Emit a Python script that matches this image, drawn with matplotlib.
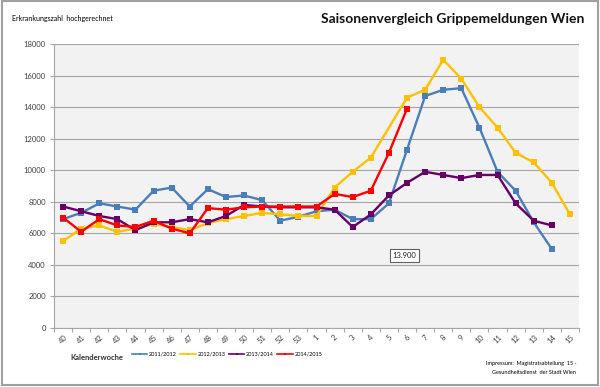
import matplotlib
matplotlib.use("Agg")
import matplotlib.pyplot as plt
import numpy as np
from matplotlib.patches import Rectangle
from matplotlib.lines import Line2D

plt.rcParams['font.family'] = ['Lato', 'DejaVu Sans']

weeks = ['40', '41', '42', '43', '44', '45', '46', '47', '48', '49', '50', '51', '52', '53',
         '1', '2', '3', '4', '5', '6', '7', '8', '9', '10', '11', '12', '13', '14', '15']

s2011 = [6900, 7300, 7900, 7700, 7500, 8700, 8900, 7700, 8800, 8300, 8400, 8100, 6800, 7050,
         7400, 7500, 6900, 6900, 7900, 11300, 14700, 15100, 15200, 12700, 9900, 8700, 6700, 5000, None]
s2012 = [5500, 6300, 6500, 6100, 6300, 6600, 6400, 6200, 6650, 6900, 7100, 7300, 7200, 7100,
         7100, 8900, 9900, 10800, None, 14600, 15100, 17000, 15800, 14000, 12700, 11100, 10500, 9200, 7200]
s2013 = [7700, 7400, 7100, 6900, 6200, 6700, 6700, 6900, 6700, 7100, 7800, 7700, 7650, 7650,
         7650, 7500, 6400, 7200, 8400, 9200, 9900, 9700, 9500, 9700, 9700, 7900, 6800, 6500, None]
s2014 = [7000, 6100, 6900, 6500, 6400, 6800, 6300, 6000, 7600, 7500, 7650, 7700, 7700, 7700,
         7700, 8500, 8300, 8700, 11100, 13900, None, None, None, None, None, None, None, None, None]

series_names = ['2011/2012', '2012/2013', '2013/2014', '2014/2015']
series_colors = ['#4A7EBB', '#FFC000', '#660066', '#FF0000']
series_data = [s2011, s2012, s2013, s2014]

annot_text = '13.900'
annot_pos = (18.85, 4600)

fig = plt.figure(figsize=(6.0, 3.87), dpi=100)
ax = fig.add_axes([54/600, 1-328/387, (579-54)/600, (328-44)/387])
ax.set_facecolor('#F2F2F2')

x = np.arange(len(weeks))
for data, col, name in zip(series_data, series_colors, series_names):
    xs = [xi for xi, v in zip(x, data) if v is not None]
    ys = [v for v in data if v is not None]
    ax.plot(xs, ys, color=col, lw=1.7, marker='s', markersize=5, markeredgewidth=0, zorder=3)

ax.set_xlim(-0.5, len(weeks) - 0.5)
ax.set_ylim(0, 18000)
ax.set_yticks(np.arange(0, 18001, 2000))
ax.yaxis.grid(True, color='#A6A6A6', lw=0.8)
ax.set_axisbelow(True)
ax.set_xticks(x)
ax.set_xticklabels(weeks, rotation=45, ha='center', va='top', fontsize=5.5, color='#404040')
ax.set_xticks(np.arange(-0.5, len(weeks)), minor=True)
ax.tick_params(axis='x', which='major', length=0, pad=4)
ax.tick_params(axis='x', which='minor', length=3, color='#A6A6A6', width=0.8)
ax.tick_params(axis='y', length=3, color='#A6A6A6', width=0.8, labelsize=5.5, labelcolor='#404040', pad=3)
for s in ['top', 'right']:
    ax.spines[s].set_visible(False)
for s in ['left', 'bottom']:
    ax.spines[s].set_color('#A6A6A6')
    ax.spines[s].set_linewidth(0.8)

ax.text(annot_pos[0], annot_pos[1], annot_text, ha='center', va='center', fontsize=5.5, color='#202020',
        bbox=dict(boxstyle='square,pad=0.35', fc='white', ec='#606060', lw=0.8), zorder=5)

fig.text(12/600, 1-19/387, 'Erkrankungszahl  hochgerechnet', fontsize=5, va='center', ha='left')
fig.text(584/600, 1-19/387, 'Saisonenvergleich Grippemeldungen Wien', fontsize=10, fontweight='bold',
         va='center', ha='right', color='#111111')
fig.text(70/600, 1-357/387, 'Kalenderwoche', fontsize=5.5, fontweight='bold', va='center', ha='left', color='#303030')
fig.text(576/600, 1-364/387, 'Impressum:  Magistratsabteilung  15 -', fontsize=4, va='center', ha='right')
fig.text(576/600, 1-372/387, 'Gesundheitsdienst  der Stadt Wien', fontsize=4, va='center', ha='right')

handles = [Line2D([0], [0], color=c, lw=1.2, marker='s', markersize=1.8, markeredgewidth=0) for c in series_colors]
fig.legend(handles, series_names, loc='center left', bbox_to_anchor=(128/600, 1-354/387), ncol=4, frameon=False,
           fontsize=4, handlelength=2.8, handletextpad=0.3, columnspacing=0.6, borderpad=0.2)

fig.add_artist(Rectangle((0.003, 0.005), 0.994, 0.992, transform=fig.transFigure, fill=False,
                         ec='#A0A0A0', lw=1.5))

fig.savefig('out.png', dpi=100)
